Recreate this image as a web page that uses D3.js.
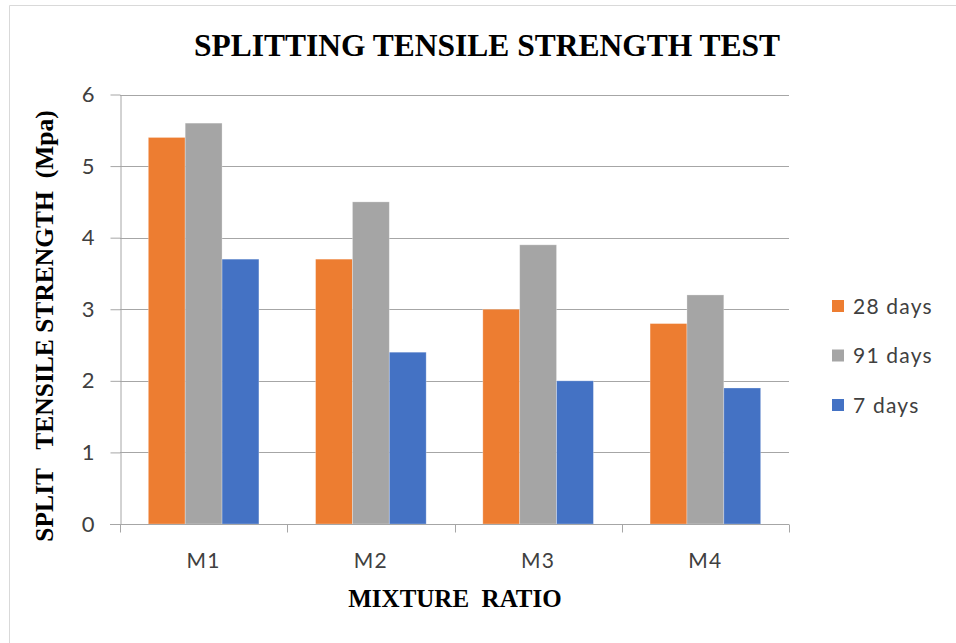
<!DOCTYPE html>
<html>
<head>
<meta charset="utf-8">
<script src="https://cdn.jsdelivr.net/npm/d3@7/dist/d3.min.js"></script>
<style>
  html, body { margin: 0; padding: 0; background: #fff; }
  svg { display: block; }
</style>
</head>
<body>
<svg id="chart" width="956" height="643"></svg>
<script>
// Split tensile strength (MPa) per mixture ratio at three curing ages
const categories = ["M1", "M2", "M3", "M4"];
const seriesNames = ["28 days", "91 days", "7 days"];
const days28 = [5.4, 3.7, 3.0, 2.8];
const days91 = [5.6, 4.5, 3.9, 3.2];
const days7 = [3.7, 2.4, 2.0, 1.9];
const yTicks = [0, 1, 2, 3, 4, 5, 6];
const colors = ["#ED7D31", "#A5A5A5", "#4472C4"];

const seriesValues = [days28, days91, days7];

const svg = d3.select("#chart");
const W = 956, H = 643;
const labelFont = "Lato, 'Open Sans', sans-serif";
const titleFont = "'Liberation Serif', 'Times New Roman', serif";

// Outer frame lines (top and left)
svg.append("line").attr("x1", 9.5).attr("x2", W).attr("y1", 5.5).attr("y2", 5.5)
  .attr("stroke", "#d9d9d9").attr("stroke-width", 1);
svg.append("line").attr("x1", 9.5).attr("x2", 9.5).attr("y1", 5.5).attr("y2", H)
  .attr("stroke", "#d9d9d9").attr("stroke-width", 1);

const plot = { left: 120, right: 789, top: 94.5, bottom: 524 };

const x0 = d3.scaleBand().domain(categories).range([plot.left, plot.right]).padding(0);
const bw = x0.bandwidth();
const x1 = d3.scaleBand().domain(seriesNames).range([bw * 0.1694, bw * 0.8306]).padding(0);
const y = d3.scaleLinear().domain([0, 6]).range([plot.bottom, plot.top]);

// Horizontal gridlines
svg.append("g").selectAll("line").data(yTicks.filter(d => d > 0)).join("line")
  .attr("x1", plot.left).attr("x2", plot.right)
  .attr("y1", d => Math.round(y(d)) + 0.5).attr("y2", d => Math.round(y(d)) + 0.5)
  .attr("stroke", "#a6a6a6").attr("stroke-width", 1);

// Bars
const groups = svg.append("g").selectAll("g").data(categories).join("g")
  .attr("transform", c => `translate(${x0(c)},0)`);
groups.selectAll("rect")
  .data((c, i) => seriesNames.map((s, k) => ({ s, k, v: seriesValues[k][i] })))
  .join("rect")
  .attr("x", d => x1(d.s))
  .attr("width", x1.bandwidth())
  .attr("y", d => y(d.v))
  .attr("height", d => y(0) - y(d.v))
  .attr("fill", d => colors[d.k])
  .attr("stroke", "#ffffff").attr("stroke-opacity", 0.35).attr("stroke-width", 0.8);

// Y axis
const yAxis = svg.append("g")
  .attr("transform", `translate(${plot.left + 0.5},0)`)
  .call(d3.axisLeft(y).tickValues(yTicks).tickFormat(d3.format("d"))
    .tickSize(10).tickPadding(16).tickSizeOuter(0));
yAxis.select(".domain").attr("stroke", "#a6a6a6");
yAxis.selectAll(".tick line").attr("stroke", "#a6a6a6");
yAxis.selectAll(".tick text")
  .attr("font-family", labelFont)
  .attr("font-size", 22).attr("fill", "#404040");

// X axis with ticks at category boundaries
const xAxisG = svg.append("g").attr("transform", `translate(0,${plot.bottom + 0.5})`);
xAxisG.append("line").attr("x1", plot.left - 10).attr("x2", plot.right)
  .attr("stroke", "#a6a6a6");
const bounds = categories.map(c => x0(c)).concat([plot.right]);
xAxisG.selectAll("line.b").data(bounds).join("line").attr("class", "b")
  .attr("x1", d => Math.round(d) + 0.5).attr("x2", d => Math.round(d) + 0.5)
  .attr("y1", 0).attr("y2", 8).attr("stroke", "#a6a6a6");
xAxisG.selectAll("text").data(categories).join("text")
  .attr("x", c => x0(c) + bw / 2).attr("y", 43)
  .attr("text-anchor", "middle")
  .attr("font-family", labelFont)
  .attr("font-size", 21).attr("letter-spacing", 1.2).attr("fill", "#404040")
  .text(c => c);

// Titles
svg.append("text").attr("x", 487).attr("y", 56).attr("text-anchor", "middle")
  .attr("font-family", titleFont)
  .attr("font-weight", "bold").attr("font-size", 31.5).attr("fill", "#000")
  .text("SPLITTING TENSILE STRENGTH TEST");

svg.append("text").attr("x", 455).attr("y", 607).attr("text-anchor", "middle")
  .attr("font-family", titleFont)
  .attr("font-weight", "bold").attr("font-size", 25).attr("fill", "#000")
  .style("white-space", "pre")
  .text("MIXTURE  RATIO");

svg.append("text")
  .attr("transform", "translate(53,326) rotate(-90)")
  .attr("text-anchor", "middle")
  .attr("font-family", titleFont)
  .attr("font-weight", "bold").attr("font-size", 25.5).attr("fill", "#000")
  .style("white-space", "pre")
  .text("SPLIT   TENSILE STRENGTH  (Mpa)");

// Legend
const legend = svg.append("g").selectAll("g").data(seriesNames).join("g")
  .attr("transform", (d, i) => `translate(832,${300 + i * 49.5})`);
legend.append("rect").attr("width", 12).attr("height", 12)
  .attr("fill", (d, i) => colors[i]);
legend.append("text").attr("x", 21).attr("y", 13.5)
  .attr("font-family", labelFont)
  .attr("font-size", 21).attr("letter-spacing", 1.2).attr("fill", "#404040")
  .text(d => d);
</script>
</body>
</html>
